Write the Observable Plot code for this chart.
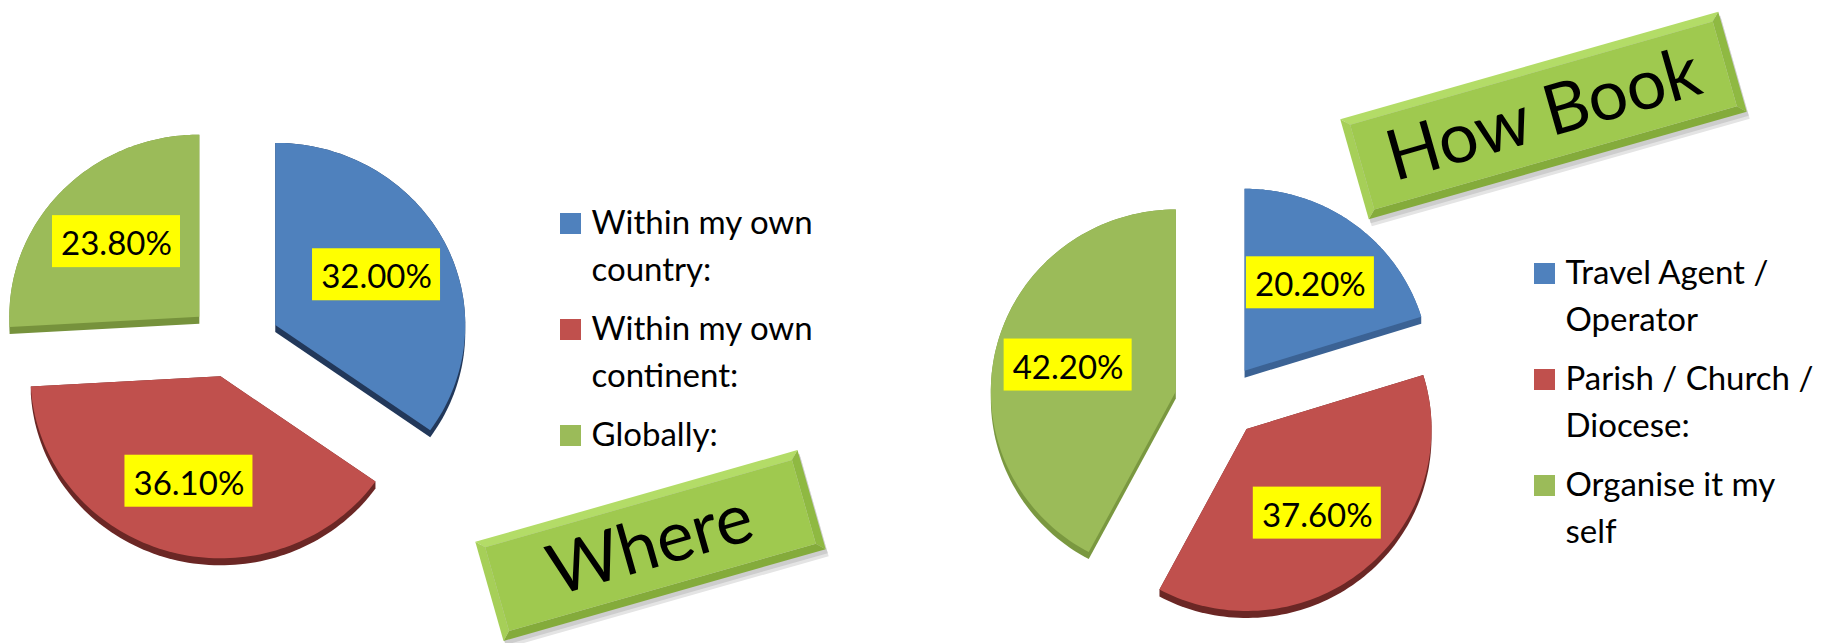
<!DOCTYPE html>
<html><head><meta charset="utf-8">
<script src="https://cdn.jsdelivr.net/npm/d3@7"></script>
<script src="https://cdn.jsdelivr.net/npm/@observablehq/plot@0.6"></script>
<style>
html,body{margin:0;padding:0;background:#fff;}
#chart svg{display:block}
</style></head><body><div id="chart"></div>
<script>
// ---- data ----
const whereCategories = ["Within my own\ncountry:", "Within my own\ncontinent:", "Globally:"];
const whereValues = [32.0, 36.1, 23.8];
const howCategories = ["Travel Agent /\nOperator", "Parish / Church /\nDiocese:", "Organise it my\nself"];
const howValues = [20.2, 37.6, 42.2];
const seriesColors = ["#4f81bd", "#c0504d", "#9bbb59"];
const titleTexts = ["Where", "How Book"];

// ---- layout / style ----
const W = 1821, H = 643;
const pies = [
  {key: "where", cats: whereCategories, vals: whereValues, title: titleTexts[0],
   cx: 233, cy: 341, rx: 190, ry: 182, explode: 47, explodeY: 0.77,
   sides: ["#22385a", "#6b2725", "#76923c"],
   legendX: 560, legendTop: 213,
   box: {cx: 650, cy: 545, w: 335, h: 103, angle: -15.9}},
  {key: "how", cats: howCategories, vals: howValues, title: titleTexts[1],
   cx: 1218, cy: 400, rx: 185, ry: 182, explode: 44, explodeY: 0.84,
   sides: ["#3b6294", "#6b2725", "#7a9840"],
   legendX: 1534, legendTop: 263,
   box: {cx: 1543, cy: 115, w: 393, h: 104, angle: -15.9}}
];
const DEPTH = 7, N = 90, LABEL_F = 0.6, LEGEND_STEP = 106;
const LEG_FS = 33, LEG_LH = 47 / 33, SQ = 21;

const sideRows = [], topRows = [], labelRows = [], legendRows = [];
const shadowRows = [], boxRows = [], titleRows = [];

for (const p of pies) {
  const arcs = d3.pie().sort(null)(p.vals);
  arcs.forEach((a, i) => {
    const m = (a.startAngle + a.endAngle) / 2;
    const ox = p.cx + p.explode * Math.sin(m);
    const oy = p.cy - p.explode * p.explodeY * Math.cos(m);
    const pts = [[ox, oy]];
    for (let k = 0; k <= N; k++) {
      const t = a.startAngle + (a.endAngle - a.startAngle) * k / N;
      pts.push([ox + p.rx * Math.sin(t), oy - p.ry * Math.cos(t)]);
    }
    const hull = d3.polygonHull(pts.concat(pts.map(([x, y]) => [x, y + DEPTH])));
    hull.forEach(([x, y]) => sideRows.push({id: `${p.key}-s${i}`, x, y, fill: p.sides[i]}));
    pts.forEach(([x, y]) => topRows.push({id: `${p.key}-t${i}`, x, y, fill: seriesColors[i]}));
    labelRows.push({x: ox + LABEL_F * p.rx * Math.sin(m), y: oy - LABEL_F * p.ry * Math.cos(m),
                    text: p.vals[i].toFixed(2) + "%"});
    legendRows.push({x: p.legendX, y: p.legendTop + i * LEGEND_STEP, text: p.cats[i], fill: seriesColors[i]});
  });
  // title box (bevelled, rotated)
  const b = p.box, ang = b.angle * Math.PI / 180, c = Math.cos(ang), s = Math.sin(ang);
  const P = (lx, ly) => [b.cx + lx * c - ly * s, b.cy + lx * s + ly * c];
  const hw = b.w / 2, hh = b.h / 2, bv = 8;
  const o = [P(-hw, -hh), P(hw, -hh), P(hw, hh), P(-hw, hh)];
  const n = [P(-hw + bv, -hh + bv), P(hw - bv, -hh + bv), P(hw - bv, hh - bv), P(-hw + bv, hh - bv)];
  const poly = (id, ptsArr, fill, arr) => ptsArr.forEach(([x, y]) => arr.push({id, x, y, fill}));
  poly(p.key + "-sh1", o.map(([x, y]) => [x + 3, y + 7]), "#e4e4e4", shadowRows);
  poly(p.key + "-sh2", o.map(([x, y]) => [x + 2, y + 4]), "#cdcdcd", shadowRows);
  poly(p.key + "-bt", [o[0], o[1], n[1], n[0]], "#b3dc67", boxRows);
  poly(p.key + "-br", [o[1], o[2], n[2], n[1]], "#8fb942", boxRows);
  poly(p.key + "-bb", [o[2], o[3], n[3], n[2]], "#84ab3b", boxRows);
  poly(p.key + "-bl", [o[3], o[0], n[0], n[3]], "#a6cf58", boxRows);
  poly(p.key + "-bf", n, "#9fc94f", boxRows);
  titleRows.push({x: b.cx, y: b.cy, text: p.title});
}

const font = "Lato, 'Open Sans', sans-serif";
const chart = Plot.plot({
  width: W, height: H, margin: 0,
  x: {domain: [0, W], axis: null},
  y: {domain: [0, H], reverse: true, axis: null},
  color: {type: "identity"},
  style: {background: "#fff", overflow: "visible"},
  marks: [
    Plot.line(shadowRows, {x: "x", y: "y", z: "id", fill: "fill", stroke: "none"}),
    Plot.line(sideRows, {x: "x", y: "y", z: "id", fill: "fill", stroke: "none"}),
    Plot.line(topRows, {x: "x", y: "y", z: "id", fill: "fill", stroke: "none"}),
    Plot.rect(labelRows, {x1: d => d.x - 64, x2: d => d.x + 64, y1: d => d.y - 26, y2: d => d.y + 26, fill: "#ffff00"}),
    Plot.text(labelRows, {x: "x", y: "y", text: "text", fontSize: 33, fontFamily: font, fill: "#000",
                          textAnchor: "middle", lineAnchor: "middle", dy: 3}),
    Plot.rect(legendRows, {x1: d => d.x, x2: d => d.x + SQ, y1: d => d.y, y2: d => d.y + SQ, fill: "fill"}),
    Plot.text(legendRows, {x: d => d.x + 31, y: d => d.y + SQ - 0.71 * LEG_LH * LEG_FS, text: "text",
                           fontSize: LEG_FS, fontFamily: font, fill: "#000",
                           textAnchor: "start", lineAnchor: "top", lineHeight: LEG_LH}),
    Plot.line(boxRows, {x: "x", y: "y", z: "id", fill: "fill", stroke: "none"}),
    Plot.text(titleRows, {x: "x", y: "y", text: "text", fontSize: 70, fontFamily: font, fill: "#000",
                          rotate: -15.9, textAnchor: "middle", lineAnchor: "middle"})
  ]
});
document.getElementById("chart").append(chart);
</script></body></html>
